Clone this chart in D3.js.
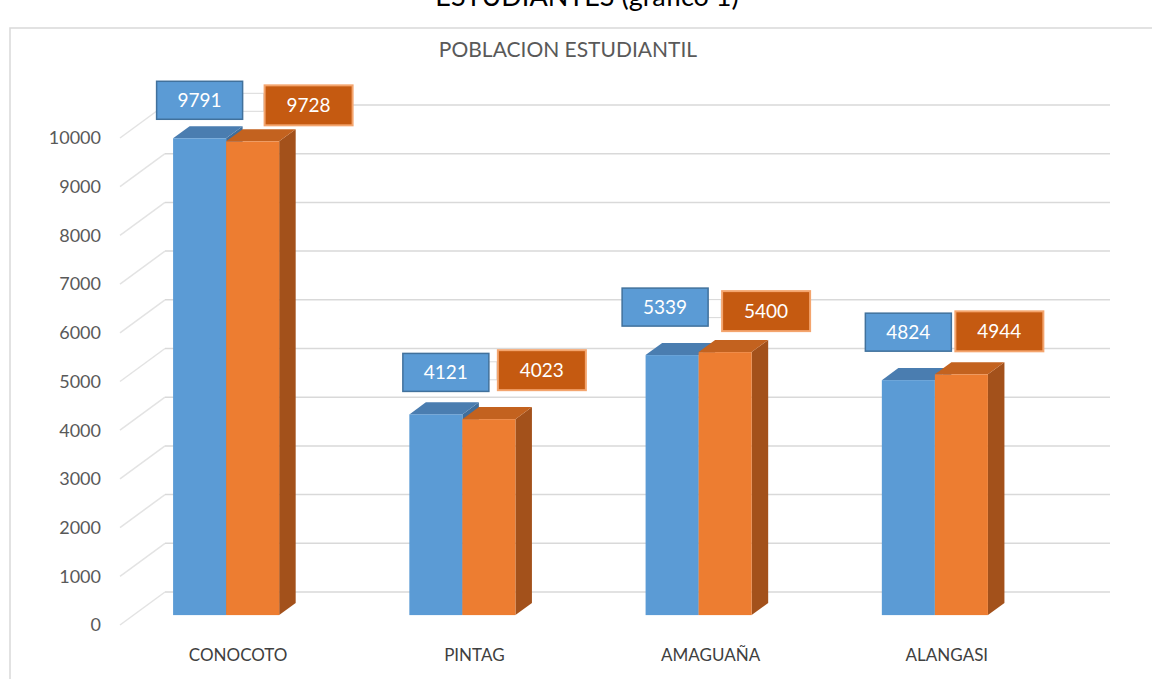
<!DOCTYPE html>
<html>
<head>
<meta charset="utf-8">
<title>Poblacion estudiantil</title>
<script src="https://d3js.org/d3.v7.min.js"></script>
<style>
  body { margin: 0; background: #fff; }
  svg text { font-family: Lato, "Open Sans", sans-serif; }
</style>
</head>
<body>
<div id="chart"></div>
<script>
// datos
const categorias = ["CONOCOTO", "PINTAG", "AMAGUAÑA", "ALANGASI"];
const serieA = [9791, 4121, 5339, 4824];
const serieB = [9728, 4023, 5400, 4944];
const yTicks = [0, 1000, 2000, 3000, 4000, 5000, 6000, 7000, 8000, 9000, 10000];

const W = 1152, H = 679;
const azul = "#5B9BD5", azulTop = "#4A7DB0", azulLado = "#3F6E9C";
const naranja = "#ED7D31", naranjaTop = "#C3621F", naranjaLado = "#A3511B";

// desplazamiento de profundidad (frente -> pared del fondo)
const depth = { dx: 45, dy: -33 };
const barFront = 0.3, barBack = 0.667;

const svg = d3.select("#chart").append("svg")
  .attr("width", W).attr("height", H);

// marco del area del grafico
svg.append("rect")
  .attr("x", 10).attr("y", 28).attr("width", W + 20).attr("height", H)
  .attr("fill", "none").attr("stroke", "#d9d9d9").attr("stroke-width", 1.5);

// texto cortado arriba (como en el original)
svg.append("text")
  .attr("x", 587).attr("y", 6)
  .attr("text-anchor", "middle")
  .attr("font-size", 27).attr("fill", "#000")
  .text("ESTUDIANTES (grafico 1)");

svg.append("text")
  .attr("x", 568).attr("y", 57)
  .attr("text-anchor", "middle")
  .attr("font-size", 21).attr("fill", "#595959")
  .text("POBLACION ESTUDIANTIL");

const y = d3.scaleLinear().domain([0, 10000]).range([625, 138]);
const x0 = d3.scaleBand().domain(categorias).range([108 - depth.dx * barFront, 1053 - depth.dx * barFront])
  .paddingInner(0.551).paddingOuter(0.2755);
const x1 = d3.scaleBand().domain(["A", "B"]).range([0, x0.bandwidth()]);

const wallLeft = 120, wallRight = 1065;

// lineas de la pared del fondo y del lateral
const grid = svg.append("g");
yTicks.forEach(v => {
  grid.append("line")
    .attr("x1", wallLeft).attr("y1", y(v))
    .attr("x2", wallLeft + depth.dx).attr("y2", y(v) + depth.dy)
    .attr("stroke", "#e3e3e3").attr("stroke-width", 1.5);
  grid.append("line")
    .attr("x1", wallLeft + depth.dx).attr("y1", y(v) + depth.dy)
    .attr("x2", wallRight + depth.dx).attr("y2", y(v) + depth.dy)
    .attr("stroke", "#d9d9d9").attr("stroke-width", 1.5);
});

// eje y
svg.append("g").selectAll("text")
  .data(yTicks)
  .join("text")
  .attr("x", 101).attr("y", d => y(d))
  .attr("dy", "0.35em")
  .attr("text-anchor", "end")
  .attr("font-size", 18).attr("fill", "#595959")
  .text(d => d);

// etiquetas de categoria
svg.append("g").selectAll("text")
  .data(categorias)
  .join("text")
  .attr("x", d => x0(d) + x0.bandwidth() / 2 + depth.dx * barFront + 12)
  .attr("y", 661)
  .attr("text-anchor", "middle")
  .attr("font-size", 17).attr("fill", "#404040")
  .text(d => d);

// barras 3d
const fx = depth.dx * barFront, fy = depth.dy * barFront;
const ddx = depth.dx * (barBack - barFront), ddy = depth.dy * (barBack - barFront);

function bar3d(g, x, w, v, cFront, cTop, cSide) {
  const x0p = x + fx, x1p = x + w + fx;
  const yt = y(v) + fy, yb = y(0) + fy;
  g.append("path")
    .attr("d", `M${x1p},${yt}L${x1p + ddx},${yt + ddy}L${x1p + ddx},${yb + ddy}L${x1p},${yb}Z`)
    .attr("fill", cSide);
  g.append("path")
    .attr("d", `M${x0p},${yt}L${x0p + ddx},${yt + ddy}L${x1p + ddx},${yt + ddy}L${x1p},${yt}Z`)
    .attr("fill", cTop);
  g.append("rect")
    .attr("x", x0p).attr("y", yt).attr("width", w).attr("height", yb - yt)
    .attr("fill", cFront);
}

const bars = svg.append("g");
categorias.forEach((c, i) => {
  const g = bars.append("g");
  bar3d(g, x0(c) + x1("A"), x1.bandwidth(), serieA[i], azul, azulTop, azulLado);
  bar3d(g, x0(c) + x1("B"), x1.bandwidth(), serieB[i], naranja, naranjaTop, naranjaLado);
});

// etiquetas de datos (posicion ajustada como en el original)
const despA = [0, 10, -7, 0];       // desplazamiento x del cuadro azul
const sepAB = [108, 95, 100, 90];   // distancia entre centros de cuadros
const subeA = [38, 42, 48, 48];
const subeB = [37, 50, 42, 44];
const cajaW = 86, cajaH = 38;

const etiquetas = svg.append("g");
categorias.forEach((c, i) => {
  const cxA = x0(c) + x1("A") + x1.bandwidth() / 2 + fx + despA[i];
  const cyA = y(serieA[i]) + fy - subeA[i];
  const cxB = cxA + sepAB[i];
  const cyB = y(serieB[i]) + fy - subeB[i];

  const gap = (cxB - cajaW / 2 - 1) - (cxA + cajaW / 2);
  if (gap > 4) {
    etiquetas.append("rect")
      .attr("x", cxA + cajaW / 2).attr("y", (cyA + cyB) / 2 - 9)
      .attr("width", gap).attr("height", 18)
      .attr("fill", "#fff").attr("stroke", "#d9d9d9").attr("stroke-width", 1);
  }

  etiquetas.append("rect")
    .attr("x", cxA - cajaW / 2).attr("y", cyA - cajaH / 2)
    .attr("width", cajaW).attr("height", cajaH)
    .attr("fill", azul).attr("stroke", "#41719C").attr("stroke-width", 1.5);
  etiquetas.append("text")
    .attr("x", cxA).attr("y", cyA).attr("dy", "0.35em")
    .attr("text-anchor", "middle").attr("font-size", 19).attr("fill", "#fff")
    .text(serieA[i]);

  etiquetas.append("rect")
    .attr("x", cxB - cajaW / 2).attr("y", cyB - cajaH / 2)
    .attr("width", cajaW + 2).attr("height", cajaH + 2)
    .attr("fill", "#C55A11").attr("stroke", "#F4A56E").attr("stroke-width", 2);
  etiquetas.append("text")
    .attr("x", cxB + 1).attr("y", cyB + 1).attr("dy", "0.35em")
    .attr("text-anchor", "middle").attr("font-size", 19).attr("fill", "#fff")
    .text(serieB[i]);
});
</script>
</body>
</html>
